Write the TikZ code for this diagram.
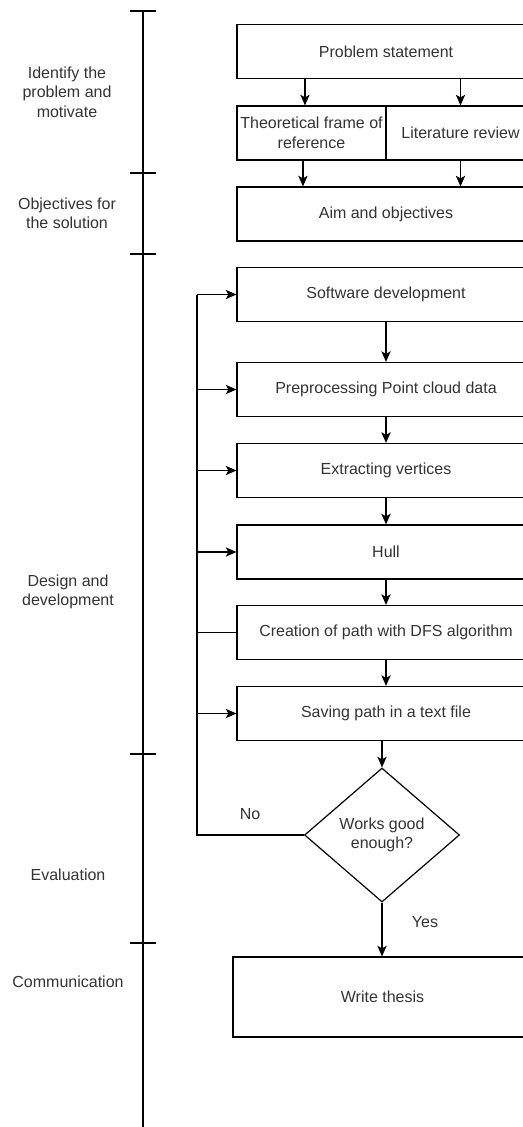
\documentclass[tikz,border=0pt]{standalone}
\usepackage{fontspec}
\setmainfont{Liberation Sans}
\usetikzlibrary{arrows.meta,shapes.geometric}
\definecolor{txt}{RGB}{51,51,51}

\begin{document}
\begin{tikzpicture}[x=0.75pt,y=-0.75pt,
  font=\fontsize{12}{14.6}\selectfont,
  every node/.style={text=txt},
  ln/.style={line width=0.9pt, draw=black},
  arr/.style={ln, -{Stealth[length=8pt,width=7pt,inset=2pt]}},
  box/.style={draw=black, line width=0.9pt, minimum width=223.5pt,
    minimum height=40.5pt, inner sep=0pt, align=center},
  halfbox/.style={box, minimum width=111.75pt},
  decision/.style={draw=black, line width=0.9pt, diamond, inner sep=0pt,
    minimum width=116.25pt, minimum height=100.5pt, align=center},
  phase/.style={align=center, inner sep=0pt},
  tick/.style={line width=0.9pt}]
\useasboundingbox (0,0) rectangle (523,1127);
\clip (0,0) rectangle (523,1127);

% phase axis
\draw[line width=1pt] (143,11) -- (143,1127);
\foreach \y in {11,173,254,754,943}
  \draw[tick] (130,\y) -- (156,\y);

\node[phase] (p1) at (67,92)  {Identify the\\problem and\\motivate};
\node[phase] (p2) at (67,213.5) {Objectives for\\the solution};
\node[phase] (p3) at (68,592) {Design and\\development};
\node[phase] (p4) at (68,875) {Evaluation};
\node[phase] (p5) at (68,982) {Communication};

% process steps
\node[box] (ps) at (386,51.5) {Problem statement};
\node[halfbox] (th) at (311.5,133) {Theoretical frame of\\reference};
\node[halfbox] (lit) at (460.5,133) {Literature review};
\node[box] (aim) at (386,214) {Aim and objectives};
\node[box] (sd) at (386,294.5) {Software development};
\node[box] (pp) at (386,389.5) {Preprocessing Point cloud data};
\node[box] (ev) at (386,470.5) {Extracting vertices};
\node[box] (hu) at (386,552) {Hull};
\node[box] (cr) at (386,632.5) {Creation of path with DFS algorithm};
\node[box] (sv) at (386,713.5) {Saving path in a text file};
\node[decision] (dec) at (382,835) {Works good\\enough?};
\node[box, minimum width=224.25pt, minimum height=60pt] (wt) at (382.5,997) {Write thesis};

% flow
\draw[arr] ([xshift=-4.9pt]th.north |- ps.south) -- ([xshift=-4.9pt]th.north);
\draw[arr] (lit.north |- ps.south) -- (lit.north);
\draw[arr] ([xshift=-6.4pt]th.south) -- ([xshift=-6.4pt]th.south |- aim.north);
\draw[arr] (lit.south) -- (lit.south |- aim.north);
\draw[arr] (sd) -- (pp);
\draw[arr] (pp) -- (ev);
\draw[arr] (ev) -- (hu);
\draw[arr] (hu) -- (cr);
\draw[arr] (cr) -- (sv);
\draw[arr] (dec.north |- sv.south) -- (dec.north);
\draw[arr] (dec.south) -- (dec.south |- wt.north);

% feedback loop
\coordinate (lp) at (197,835);
\coordinate (lt) at (197,294.5);
\draw[ln] (dec.west) -- (lp) -- (lt);
\draw[arr] (lt) -- (sd.west);
\draw[arr] (lp |- pp.west) -- (pp.west);
\draw[arr] (lp |- ev.west) -- (ev.west);
\draw[arr] (lp |- hu.west) -- (hu.west);
\draw[ln]  (lp |- cr.west) -- (cr.west);
\draw[arr] (lp |- sv.west) -- (sv.west);

\node (no) at (250,814) {No};
\node (yes) at (425,922) {Yes};
\end{tikzpicture}
\end{document}
